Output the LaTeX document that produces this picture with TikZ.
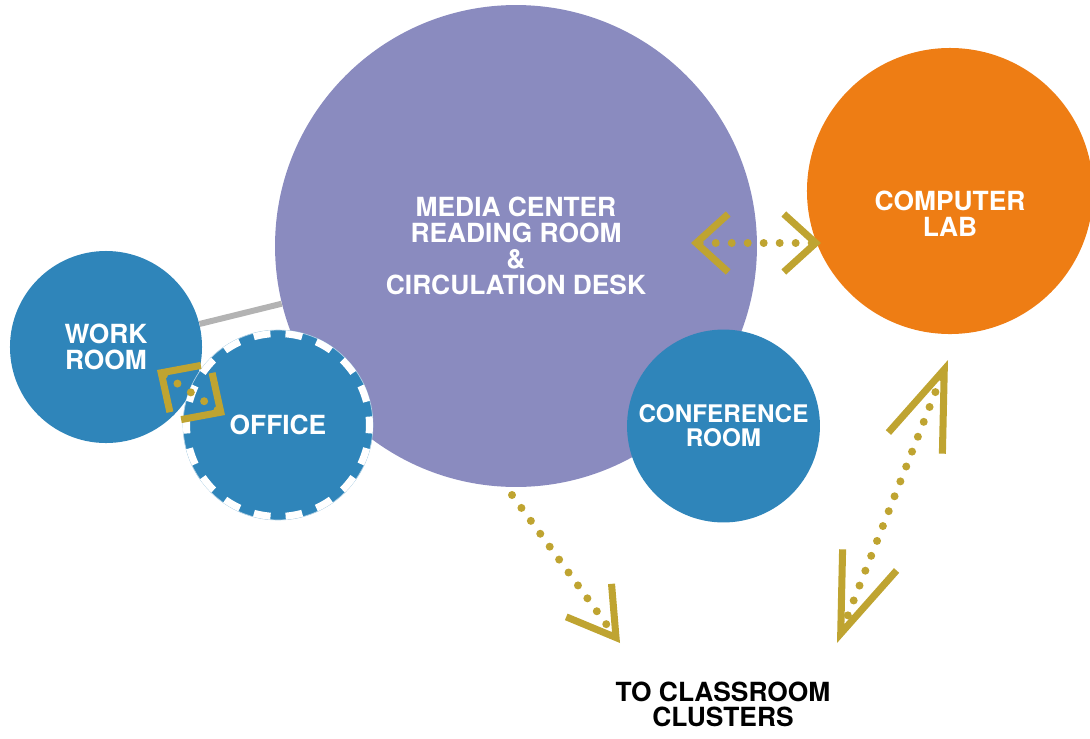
\documentclass[tikz,border=0pt]{standalone}
\usepackage{fontspec}
\setmainfont{TeX Gyre Heros}
\usetikzlibrary{arrows.meta}

\definecolor{mediapurple}{HTML}{8A8BBF}
\definecolor{laborange}{HTML}{EE7D14}
\definecolor{roomblue}{HTML}{2F85BA}
\definecolor{arrowgold}{HTML}{BFA431}
\definecolor{linkgray}{HTML}{B3B3B3}

\begin{document}
\begin{tikzpicture}[
  x=0.02cm, y=-0.02cm,
  room/.style={circle, fill=#1, inner sep=0pt, text=white, align=center,
    font=\bfseries\fontsize{15}{14.8}\selectfont},
  roomtext/.style={text=white, align=center, inner sep=0pt,
    font=\bfseries\fontsize{15}{14.8}\selectfont},
  link/.style={draw=linkgray, line width=3.4pt},
  walkway/.style={draw=arrowgold, line width=4.55pt, line cap=round,
    dash pattern=on 0pt off 9.1pt},
  oneway/.style 2 args={arrows={-{Straight Barb[length=#1, width=#2, line width=4pt]}}},
  twoway/.style 2 args={arrows={{Straight Barb[length=#1, width=#2, line width=4pt]}-{Straight Barb[length=#1, width=#2, line width=4pt]}}},
  officeedge/.style={draw=white, line width=4pt,
    dash pattern=on 9.6pt off 8.58pt, dash phase=4.8pt}
]
\useasboundingbox (0,0) rectangle (1090,738);

\node[room=mediapurple, minimum size=274.3pt] (media) at (516,246)
  {MEDIA CENTER\\READING ROOM\\\&\\CIRCULATION DESK};
\node[room=laborange, minimum size=162.8pt] (lab) at (950,191) {};
\node[roomtext] (lab-name) at ([yshift=-13.2pt]lab.center) {COMPUTER\\LAB};
\node[room=roomblue, minimum size=109.3pt] (work) at (106,347) {WORK\\ROOM};
\node[room=roomblue, minimum size=108.1pt, draw=roomblue!40, line width=0.4pt]
  (office) at (278,425) {OFFICE};
\draw[officeedge] (office.center) circle [radius=52.07pt];
\node[room=roomblue, minimum size=109.8pt,
  font=\bfseries\fontsize{13.8}{13.8}\selectfont] (conference) at (723.5,426)
  {CONFERENCE\\ROOM};

\draw[link] (work) -- (media);

\coordinate (media-out) at (691,243);
\coordinate (lab-in) at (821,243);
\coordinate (work-in) at (157,370);
\coordinate (office-in) at (225,415);
\coordinate (media-down) at (512,495);
\coordinate (cluster-in) at (620,643);
\coordinate (cluster-out) at (837,643);
\coordinate (lab-up) at (948,360);

\draw[walkway, twoway={18.2pt}{33pt}] (media-out) -- (lab-in);
\draw[walkway, twoway={16.5pt}{31.9pt}] (work-in) -- (office-in);
\draw[walkway, oneway={26.2pt}{31.9pt}] (media-down) -- (cluster-in);
\draw[walkway, twoway={45pt}{33pt}] (cluster-out) -- (lab-up);

\node[align=center, inner sep=0pt, font=\bfseries\fontsize{15}{14.2}\selectfont]
  (clusters) at (723,704) {TO CLASSROOM\\CLUSTERS};
\end{tikzpicture}
\end{document}
